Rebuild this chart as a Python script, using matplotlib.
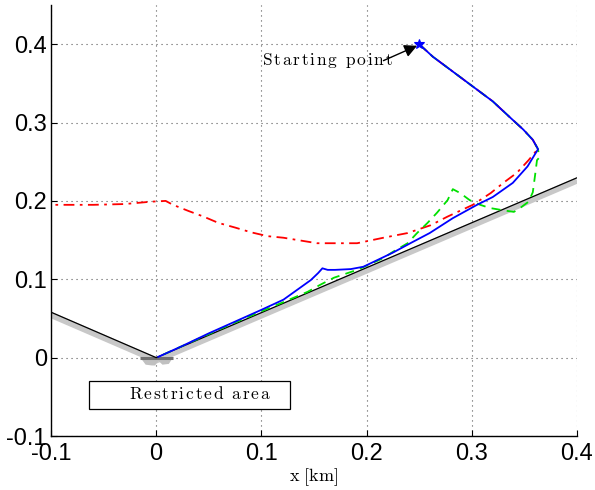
import matplotlib
matplotlib.use("Agg")
import matplotlib.pyplot as plt
import numpy as np

plt.rcParams['mathtext.fontset'] = 'cm'
plt.rcParams['axes.unicode_minus'] = False

# ---- data ----
xticks = [-0.1, 0, 0.1, 0.2, 0.3, 0.4]
xticklabels = ['-0.1', '0', '0.1', '0.2', '0.3', '0.4']
yticks = [-0.1, 0, 0.1, 0.2, 0.3, 0.4]
yticklabels = ['-0.1', '0', '0.1', '0.2', '0.3', '0.4']

# restricted boundary
bound_x = [-0.1, 0.0, 0.4]
bound_y = [0.058, 0.0, 0.2295]

# common first leg (start -> turning point)
leg_x = [0.250, 0.263, 0.282, 0.301, 0.320, 0.336, 0.349, 0.358, 0.363]
leg_y = [0.400, 0.384, 0.365, 0.346, 0.327, 0.307, 0.291, 0.278, 0.266]

blue_x = [0.353, 0.339, 0.320, 0.305, 0.282, 0.260, 0.243, 0.225, 0.197, 0.185,
          0.170, 0.163, 0.158, 0.154, 0.147, 0.121, 0.100, 0.075, 0.050, 0.025, 0.002]
blue_y = [0.244, 0.223, 0.205, 0.195, 0.178, 0.159, 0.147, 0.134, 0.116, 0.113,
          0.112, 0.112, 0.114, 0.108, 0.099, 0.074, 0.061, 0.046, 0.031, 0.015, 0.001]

green_x = [0.364, 0.362, 0.360, 0.358, 0.354, 0.346, 0.340, 0.330, 0.317, 0.308,
           0.298, 0.289, 0.282, 0.277, 0.267, 0.258, 0.248, 0.239, 0.225, 0.216,
           0.191, 0.169, 0.156, 0.144, 0.130, 0.100, 0.070, 0.040, 0.002]
green_y = [0.255, 0.252, 0.231, 0.211, 0.199, 0.191, 0.186, 0.188, 0.191, 0.195,
           0.201, 0.210, 0.215, 0.201, 0.185, 0.172, 0.159, 0.146, 0.135, 0.127,
           0.112, 0.102, 0.093, 0.084, 0.076, 0.059, 0.042, 0.024, 0.001]

red_x = [0.362, 0.354, 0.343, 0.330, 0.318, 0.301, 0.277, 0.261, 0.239, 0.216,
         0.191, 0.153, 0.121, 0.106, 0.090, 0.075, 0.059, 0.045, 0.031, 0.016,
         0.009, -0.005, -0.030, -0.060, -0.0975, -0.105]
red_y = [0.265, 0.252, 0.236, 0.223, 0.210, 0.195, 0.180, 0.169, 0.159, 0.153,
         0.146, 0.146, 0.153, 0.155, 0.160, 0.166, 0.172, 0.180, 0.187, 0.195,
         0.200, 0.199, 0.196, 0.195, 0.195, 0.195]

start_pt = (0.250, 0.400)
arrow_tail = (0.216, 0.379)
label_start = (0.101, 0.379)

box_x0, box_x1 = -0.0643, 0.1275
box_y0, box_y1 = -0.0655, -0.0298
box_label = (0.042, -0.047)

origin_seg_x = [-0.015, 0.016]
origin_seg_y = [0.0, 0.0]
origin_shadow_x = [-0.015, 0.016, 0.012, 0.006, 0.002, -0.001, -0.004, -0.010]
origin_shadow_y = [0.0, 0.0, -0.008, -0.009, -0.004, -0.010, -0.010, -0.009]


def spaced(s, k=0.12):
    parts = []
    for ch in s:
        if ch == ' ':
            parts.append(r'\ ')
        else:
            parts.append(ch)
    return r'$\mathrm{' + (r'\hspace{%g}' % k).join(parts) + '}$'


fig = plt.figure(figsize=(5.95, 4.9), dpi=100)
ax = fig.add_axes([0.0857, 0.1102, 0.884, 0.8796])

# gray shadow band and boundary
ax.plot(bound_x, np.array(bound_y) - 0.0035, color='#c8c8c8', lw=4.5,
        solid_capstyle='butt', zorder=1)
ax.fill(origin_shadow_x, origin_shadow_y, color='#c0c0c0', lw=0, zorder=1)
ax.plot(origin_seg_x, origin_seg_y, color='#707070', lw=2.2, zorder=2,
        solid_capstyle='butt')
ax.plot(bound_x, bound_y, color='black', lw=0.9, zorder=3)

# trajectories
ax.plot(leg_x + red_x, leg_y + red_y, color='red', lw=1.3,
        linestyle=(0, (6, 3, 1.5, 3)), zorder=4)
ax.plot(leg_x + green_x, leg_y + green_y, color='#00e000', lw=1.3,
        linestyle=(0, (5, 3.5)), zorder=5)
ax.plot(leg_x + blue_x, leg_y + blue_y, color='blue', lw=1.3, zorder=6)
ax.plot([start_pt[0]], [start_pt[1]], marker='*', color='blue', ms=7,
        mew=0.8, linestyle='none', zorder=7)

# annotations
ax.text(label_start[0], label_start[1], spaced('Starting point'),
        fontsize=12.5, ha='left', va='center', zorder=8)
ax.annotate('', xy=(start_pt[0] - 0.002, start_pt[1] - 0.002), xytext=arrow_tail,
            arrowprops=dict(arrowstyle='-|>', color='black', lw=1.0,
                            mutation_scale=19, shrinkA=0, shrinkB=0), zorder=8)

ax.add_patch(plt.Rectangle((box_x0, box_y0), box_x1 - box_x0, box_y1 - box_y0,
                           facecolor='white', edgecolor='black', lw=0.9, zorder=8))
ax.text(box_label[0], box_label[1], spaced('Restricted area'),
        fontsize=12.5, ha='center', va='center', zorder=9)

ax.set_xlim(-0.1, 0.4)
ax.set_ylim(-0.1, 0.45)
ax.set_xticks(xticks)
ax.set_xticklabels(xticklabels)
ax.set_yticks(yticks)
ax.set_yticklabels(yticklabels)
for lab in ax.get_xticklabels() + ax.get_yticklabels():
    lab.set_fontfamily('Liberation Sans')
    lab.set_fontsize(17)
ax.tick_params(direction='in', length=4, width=0.8, top=False, right=False)
ax.tick_params(axis='x', pad=5)
ax.tick_params(axis='y', pad=3)
ax.spines['top'].set_visible(False)
ax.spines['right'].set_visible(False)
ax.spines['left'].set_linewidth(1.0)
ax.spines['bottom'].set_linewidth(1.0)
ax.grid(True, color='0.35', linestyle=(0, (1, 3.5)), lw=0.8)
ax.set_axisbelow(True)

ax.set_xlabel(r'$\mathrm{x\ [km]}$', fontsize=13, labelpad=1)

fig.savefig('out.png', dpi=100)
